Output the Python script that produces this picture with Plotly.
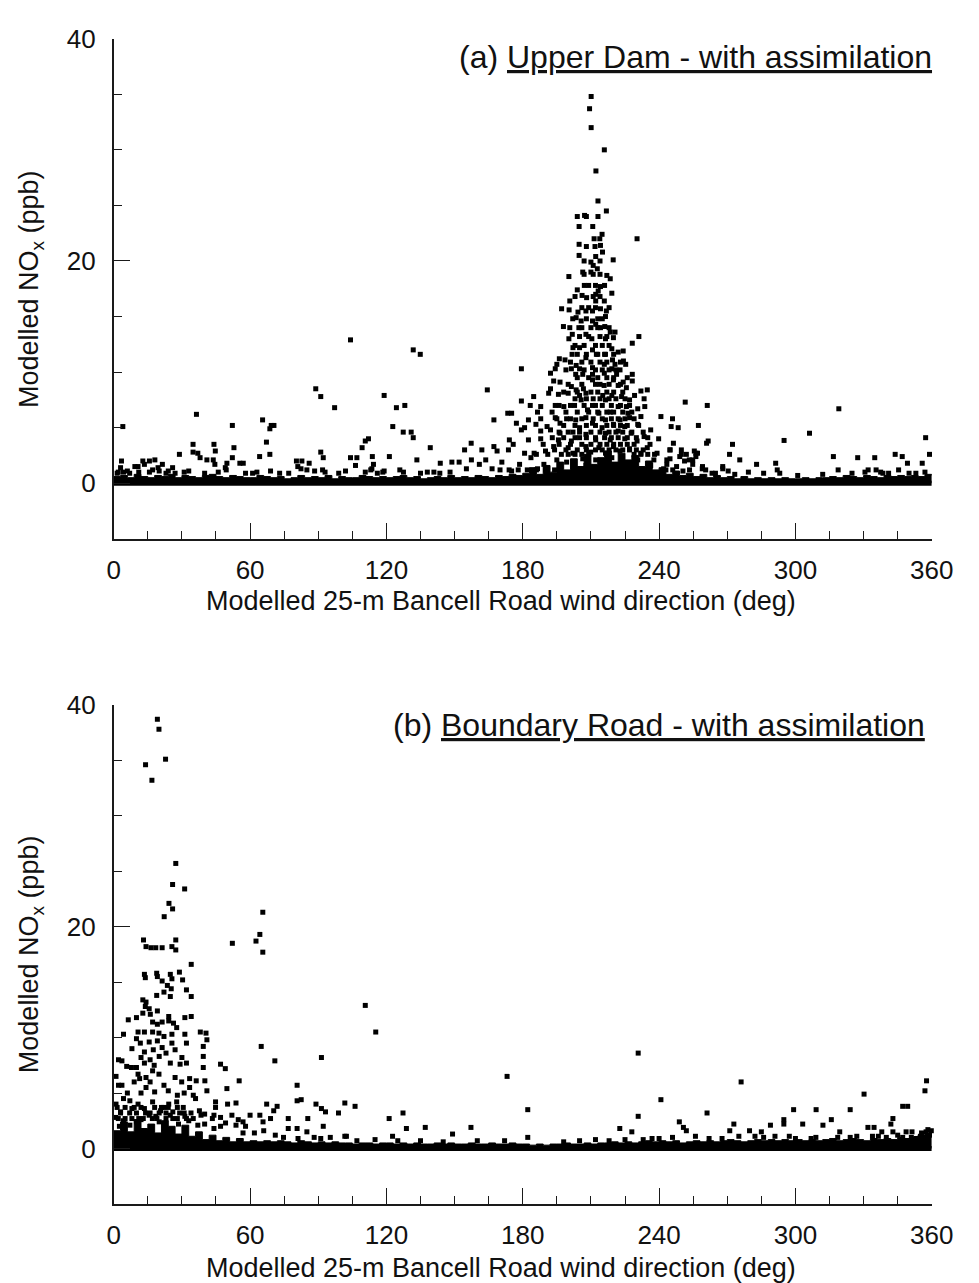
import plotly.graph_objects as go

# ---------------- data (wind direction deg, modelled NOx ppb) ----------------
# Panel (a) Upper Dam
a_low = [(4.0,5.1),(3.4,2.0),(36.4,6.2),(34.9,3.5),(34.9,2.8),(37.0,2.7),(38.0,2.3),(44.1,3.5),(44.7,2.9),(41.0,2.1),
(43.8,2.1),(44.5,1.7),(28.9,2.6),(25.9,1.4),(52.2,5.2),(52.9,3.2),(52.2,2.3),(49.8,1.8),(49.1,1.4),(49.5,1.2),
(55.5,1.8),(57.0,1.8),(65.5,5.7),(69.3,5.2),(70.5,5.2),(68.7,4.9),(67.2,3.7),(64.2,2.4),(68.7,2.6),(61.1,0.9),
(69.0,1.1),(77.0,0.9),(80.4,2.0),(82.8,2.0),(81.0,1.5),(82.4,1.3),(88.4,1.1),(88.9,8.5),(91.1,7.8),(97.2,6.8),
(91.1,2.8),(92.2,2.3),(91.9,1.2),(93.0,1.0),(104.2,12.9),(104.2,2.3),(107.0,2.3),(106.4,1.6),(109.3,3.2),(110.7,3.8),
(112.1,4.0),(113.8,2.4),(114.3,1.7),(113.6,1.3),(113.1,1.2),(110.7,1.0),(119.0,7.9),(121.3,2.4),(122.8,5.1),(124.4,6.8),
(128.1,7.0),(131.8,12.0),(134.9,11.6),(127.4,4.6),(130.9,4.6),(131.8,4.1),(133.4,2.1),(119.0,1.1),(118.4,1.0),(125.9,1.2),
(127.5,1.0),(139.3,3.2),(143.7,1.8),(140.9,1.0),(143.5,0.9),(15.7,2.0),(18.1,2.1),(12.8,2.0),(9.3,1.5),(10.7,1.5),
(21.4,1.7),(17.1,1.2),(15.7,1.0),(4.3,1.0),(1.5,0.9),(7.0,0.9),(11.0,1.0),(20.0,1.1),(23.0,0.9),(27.0,0.9),
(31.0,1.0),(33.0,1.1),(40.0,0.9),(46.0,1.0),(58.0,0.9),(63.0,1.0),(73.0,0.9),(85.0,1.2),(86.0,1.8),(99.0,0.9),
(102.0,1.1),(116.0,0.9),(135.0,0.9),(138.0,1.0),(3.0,1.4),(6.0,1.1),(2.0,1.0),(13.5,1.7),(19.5,1.4),(24.0,1.1)]

a_peak = [(210.1,34.8),(209.4,33.7),(210.1,32.0),(215.9,30.0),(212.2,28.1),(213.1,25.4),(216.8,24.5),(204.0,24.0),(207.2,24.1),(208.0,24.0),
(213.1,24.0),(204.8,23.1),(210.8,23.1),(230.3,22.0),(214.9,22.4),(211.4,22.0),(213.9,22.0),(204.8,21.5),(208.0,21.3),(211.8,21.3),
(214.2,21.4),(215.1,20.8),(204.8,20.5),(212.1,20.4),(219.8,20.1),(210.0,19.9),(211.0,19.6),(212.8,19.3),(206.4,19.0),(210.0,19.0),
(200.3,18.6),(217.0,18.7),(218.5,18.4),(207.1,17.8),(204.0,17.4),(214.2,17.7),(213.2,17.3),(219.2,17.1),(206.1,16.9),(208.1,16.7),
(212.1,17.0),(200.7,16.4),(212.1,16.4),(215.9,16.4),(197.1,15.7),(200.4,15.6),(204.3,15.4),(207.8,15.5),(210.7,15.5),(214.2,15.7),
(216.8,15.5),(216.4,15.0),(203.5,14.9),(205.7,14.6),(210.7,14.6),(197.9,14.1),(200.7,14.0),(204.7,14.0),(212.1,14.3),(214.2,14.0),
(216.1,14.1),(220.6,13.6),(218.5,13.6),(201.8,13.4),(207.8,13.4),(210.4,13.0),(200.3,13.0),(216.4,13.0),(219.9,13.1),(231.1,13.2),
(228.2,12.6),(202.1,12.2),(205.0,12.2),(210.7,12.0),(219.2,12.1),(224.2,11.9),(201.7,11.6),(212.4,11.6),(216.4,11.6),(222.0,11.8),
(196.1,11.2),(198.6,11.1),(207.8,11.3),(219.5,11.1),(224.3,11.0),(195.0,10.7),(203.5,10.6),(215.9,10.7),(220.6,10.7),(225.3,10.7),
(179.4,10.3),(194.3,10.3),(201.4,10.3),(205.0,10.3),(210.7,10.4),(219.2,10.3),(222.8,10.2),(192.2,9.9),(203.3,9.8),(206.4,9.8),
(210.7,9.8),(215.9,9.9),(221.3,9.8),(228.2,9.8),(193.6,9.2),(196.4,9.1),(210.7,9.3),(219.9,9.3),(224.2,9.1),(228.2,9.2),
(215.8,8.8),(222.0,8.8),(192.2,8.5),(201.4,8.7),(203.5,8.4),(206.7,8.5),(225.6,8.6),(164.4,8.4),(232.0,8.3),(234.8,8.4),
(191.4,8.1),(195.7,8.0),(200.0,8.1),(205.0,7.9),(207.8,8.1),(215.2,7.9),(219.2,7.9),(223.5,7.8),(229.2,7.9),(184.8,7.8),
(179.4,7.4),(205.7,7.5),(216.4,7.5),(227.0,7.5),(233.4,7.6),(183.3,7.0),(187.9,6.9),(194.3,7.0),(198.1,6.9),(202.8,7.0),
(210.7,7.0),(222.0,6.9),(225.6,6.9),(230.6,6.7),(233.7,6.9),(186.5,6.4),(192.9,6.4),(173.4,6.3),(175.1,6.3),(208.5,6.6),
(213.5,6.3),(218.5,6.4),(226.3,6.3),(232.0,6.0),(240.8,6.0),(167.3,5.7),(182.5,5.7),(187.9,5.8),(194.3,5.9),(199.3,5.8),
(203.3,5.7),(207.8,5.9),(216.4,5.7),(222.8,5.7),(227.0,5.9),(177.2,5.4),(180.8,5.0),(185.8,5.3),(190.7,5.1),(196.4,5.4),
(205.0,5.0),(210.7,5.4),(214.9,5.0),(219.9,5.3),(224.9,5.1),(230.6,5.3),(236.3,4.8),(179.4,4.8),(187.9,4.7),(192.2,4.8),
(196.4,4.5),(202.1,4.6),(207.8,4.4),(216.4,4.5),(222.0,4.7),(227.7,4.5),(233.4,4.2),(174.1,3.9),(182.5,3.9),(187.9,4.0),
(195.7,3.9),(201.4,3.8),(205.0,4.1),(212.1,3.9),(218.5,3.9),(224.9,4.0),(230.3,3.8),(239.8,4.0),(157.3,3.6),(167.3,3.3),
(175.8,3.5),(193.6,3.3),(200.0,3.2),(207.8,3.3),(213.5,3.2),(219.9,3.3),(227.0,3.1),(234.8,3.2),(244.8,3.0),(154.4,3.0),
(162.0,3.0),(168.7,2.9),(173.7,3.0),(180.8,2.7),(185.0,2.7),(190.0,2.9),(202.1,2.7),(209.9,2.8),(216.4,2.7),(222.8,2.9),
(232.0,2.7),(239.1,2.7),(157.4,2.1),(163.7,2.1),(183.6,2.3),(195.0,2.1),(206.4,2.2),(212.1,2.1),(219.2,2.3),(230.6,2.1),
(237.7,2.1),(244.8,2.2),(148.8,1.9),(152.0,1.9),(160.9,1.7),(170.8,1.9),(178.6,1.7),(189.3,1.7),(199.3,1.9),(207.8,1.6),
(224.9,1.7),(236.3,1.6),(243.4,1.7),(148.0,1.0),(155.2,1.3),(166.5,1.3),(175.1,1.1),(186.5,1.3),(196.4,1.1),(205.0,1.3),
(213.5,1.1),(222.0,1.1),(232.0,1.3),(242.0,1.3)]

# dense core of the peak: level (ppb) -> directions
a_core_rows = {
    1.2: [170,174,178,182,186,190,194,243,246],
    2.6: [186,191,197,200,203,206,209,229,232,235,238],
    3.0: [194,199,204,208,212,215,218,221,224,227,230,233],
    3.5: [189,196,201,206,210,214,217,220,223,226,229,236],
    4.1: [193,198,203,208,212,216,219,222,226,230,235],
    4.6: [196,200,205,210,214,218,221,224,228,233],
    5.2: [198,203,208,212,217,220,223,226,231],
    5.8: [195,201,206,211,215,219,222,225,229],
    6.4: [199,204,209,213,217,220,224,228],
    7.0: [196,201,207,212,215,219,223,227],
    7.6: [203,208,211,214,218,221,225],
    8.2: [198,204,210,213,217,220,224],
    8.9: [200,206,212,214,218,223],
    9.5: [204,209,213,217,220,226],
    10.2: [199,207,212,215,218,221],
    10.9: [201,206,210,214,217,223],
    11.6: [204,208,213,216,220],
    12.4: [203,207,212,215,218],
    13.2: [205,209,214,217],
    14.0: [206,210,213,218],
    14.8: [202,208,213,215],
    15.8: [206,209,212,218],
    16.8: [203,211,214],
    17.8: [209,212,216],
    18.8: [207,211,214],
    20.0: [207,214],
}

a_right = [(251.5,7.3),(261.2,7.0),(245.9,5.8),(245.3,5.1),(248.4,5.0),(257.3,5.2),(261.6,3.8),(260.9,3.6),(272.3,3.5),(295.0,3.85),
(306.2,4.5),(319.1,6.7),(357.3,4.1),(359.0,2.6),(355.8,1.8),(271.0,2.6),(275.5,2.1),(268.0,1.5),(268.0,1.3),(279.3,1.0),
(282.9,1.7),(286.0,0.9),(291.3,1.8),(292.0,1.2),(293.1,0.9),(316.7,2.4),(318.8,1.2),(324.9,0.9),(327.4,2.3),(334.9,2.3),
(330.6,1.0),(332.0,1.2),(335.5,1.2),(337.5,1.0),(343.9,2.6),(347.0,2.4),(349.3,1.8),(345.4,1.2),(350.0,0.9),(249.8,2.6),
(256.2,2.7),(253.3,2.1),(254.8,1.7),(250.5,1.1),(259.0,1.3),(270.4,1.1),(244.8,3.0),(249.1,2.4),(252.0,2.6),(254.8,2.1),
(256.2,2.4),(259.1,1.5),(263.3,0.9),(247.7,1.5),(253.4,1.2),(243.4,2.1),(255.5,2.9),(256.9,2.7),(251.2,2.0),(260.5,1.2),
(264.8,0.9),(273.3,0.8),(246.3,3.6),(249.8,3.0),(341.0,0.9),(353.0,0.9),(357.0,1.0),(312.0,0.8),(301.0,0.7),(338.5,0.9)]

# Panel (b) Boundary Road
b_left = [(19.2,38.7),(19.9,37.8),(14.0,34.6),(22.8,35.1),(16.8,33.2),(27.3,25.7),(25.9,23.8),(31.2,23.4),(24.3,22.1),(25.9,21.6),
(22.2,20.9),(65.6,21.3),(64.3,19.3),(62.6,18.7),(65.6,17.7),(52.2,18.5),(13.1,18.8),(14.2,18.2),(16.4,18.1),(18.5,18.1),
(21.3,18.1),(25.6,18.2),(27.3,18.8),(27.3,17.9),(34.1,16.6),(13.5,15.7),(13.9,15.4),(18.9,15.8),(19.2,15.5),(21.3,15.1),
(24.9,15.7),(25.6,15.3),(28.9,15.9),(30.3,15.2),(23.6,14.7),(25.3,14.4),(18.9,13.8),(22.1,14.1),(24.9,13.7),(32.0,14.3),
(34.1,13.7),(12.8,13.4),(14.2,13.2),(13.9,12.8),(15.6,12.6),(12.8,12.2),(19.2,12.4),(16.1,12.1),(6.4,11.6),(10.0,11.8),
(31.3,11.8),(34.1,11.9),(24.2,11.9),(17.1,11.4),(19.2,11.2),(21.3,11.4),(24.2,11.5),(26.3,11.3),(27.7,10.9),(10.7,10.5),
(13.5,10.5),(17.1,10.5),(19.9,10.4),(4.3,10.3),(22.1,10.1),(25.6,10.3),(31.3,10.3),(38.1,10.5),(40.6,10.4),(41.0,9.8),
(10.0,9.9),(11.7,9.5),(15.6,9.6),(19.2,9.7),(25.6,9.5),(32.0,9.5),(13.5,8.7),(17.4,8.9),(21.3,9.1),(39.4,9.2),
(64.9,9.2),(2.1,8.0),(3.6,7.9),(5.7,7.4),(7.8,7.3),(10.0,7.3),(13.5,7.7),(17.1,7.0),(17.8,7.5),(24.9,7.7),
(29.2,7.6),(32.0,7.7),(39.4,8.3),(39.4,7.3),(47.0,7.6),(49.1,7.2),(70.9,7.9),(91.4,8.2),(10.7,6.7),(11.4,6.3),
(14.2,6.4),(19.9,6.7),(22.1,5.7),(27.0,6.4),(29.9,6.0),(33.4,6.3),(36.3,6.1),(40.1,6.1),(55.2,6.1),(2.1,5.7),
(3.6,5.7),(14.2,5.5),(33.4,5.5),(41.0,5.2),(49.8,5.4),(80.7,5.7),(80.7,4.3),(82.5,4.4),(101.7,4.1),(4.3,4.5),
(7.1,4.3),(10.7,4.0),(13.5,3.6),(17.1,4.2),(20.6,3.4),(24.2,4.0),(27.7,4.2),(30.6,3.7),(37.7,3.4),(38.4,3.0),
(44.8,4.2),(44.8,3.7),(50.1,4.0),(53.8,4.1),(67.3,4.0),(71.9,3.8),(70.4,3.4),(89.0,4.0),(91.4,3.6),(93.2,3.3),
(98.9,3.2),(64.3,3.0),(65.7,2.4),(69.0,2.7),(76.8,2.7),(85.4,2.7),(92.2,2.0),(76.8,1.8),(80.7,1.8),(54.8,2.6),
(56.9,2.4),(49.2,2.3),(53.8,2.1),(43.4,2.7),(44.1,3.0),(15.6,3.0),(18.5,2.9),(24.9,3.0),(31.3,2.9),(7.1,2.1),
(10.0,2.4),(4.3,2.5),(28.5,2.2),(37.0,2.1),(44.1,1.8),(56.9,1.4),(61.9,1.4),(71.1,1.2),(74.7,1.0),(81.1,0.9),
(88.2,1.0),(91.1,0.9),(95.3,1.0),(101.7,1.1),
(8.0,9.0),(12.0,8.2),(16.0,8.0),(20.0,8.3),(23.0,8.6),(27.0,8.9),(30.0,8.2),(9.0,6.0),(16.0,6.0),(24.0,5.2),
(28.0,4.8),(35.0,4.8),(6.0,5.0),(12.0,5.0),(18.0,5.1),(31.0,5.0),(36.0,4.5),(8.0,3.6),(22.0,3.7),(26.0,3.3),
(34.0,3.2),(40.0,3.1),(47.0,2.8),(52.0,3.0),(60.0,3.0),(3.0,3.3),(1.0,4.0),(1.0,6.5),(0.8,2.8),(2.5,2.0),
(12.0,2.6),(20.0,2.4),(33.0,2.5),(40.0,2.2),(47.0,2.0),(58.0,2.0),(66.0,1.6),(85.0,1.5)]

b_core_rows = {
    2.7: [2,5,8,11,13,17,19,23,26,28,32,35],
    3.2: [3,7,10,14,16,20,23,29,31],
    3.7: [1.5,5,9,12,18,21,24,28],
}

b_right = [(110.7,12.9),(115.3,10.5),(173.1,6.5),(230.8,8.6),(276.1,6.0),(330.2,4.9),(357.7,6.1),(357.0,5.2),(240.8,4.4),(261.1,3.2),
(299.2,3.5),(309.1,3.5),(324.1,3.5),(347.2,3.8),(349.4,3.8),(182.2,3.5),(230.8,2.9),(127.3,3.2),(128.8,1.8),(121.2,2.7),
(106.2,3.8),(137.1,1.9),(157.2,1.9),(149.1,1.3),(122.7,1.1),(182.2,1.0),(222.7,1.8),(228.0,1.5),(236.9,0.9),(240.0,0.9),
(245.9,1.0),(248.9,2.4),(250.7,1.9),(252.0,1.6),(267.7,0.9),(271.1,1.6),(272.9,2.2),(275.1,1.1),(279.8,1.6),(282.2,1.1),
(285.0,1.5),(289.0,2.1),(294.9,2.6),(294.9,2.2),(297.3,1.1),(303.2,2.2),(306.9,0.9),(312.1,2.1),(315.8,2.6),(319.5,1.5),
(318.6,1.0),(324.1,1.0),(331.9,1.9),(334.6,1.9),(333.9,1.1),(336.5,1.1),(338.0,1.5),(342.0,2.2),(342.9,2.7),(342.9,1.5),
(347.2,1.0),(348.7,1.5),(351.3,1.5),(355.5,1.4),(358.3,1.7),(102.4,1.1),(357.0,1.0),(359.0,1.2),(357.5,1.5),(359.8,1.6),
(355.0,1.1),(353.0,0.9),(351.0,1.0),(107.0,0.7),(115.0,0.8),(125.0,0.7),(135.0,0.7),(145.0,0.6),(160.0,0.7),(172.0,0.7),
(198.0,0.6),(205.0,0.7),(212.0,0.8),(218.0,0.7),(225.0,0.8),(233.0,0.8),(256.0,1.1),(262.0,0.9),(286.0,1.0),(291.0,1.1),
(300.0,0.9),(309.0,1.0),(327.0,1.1),(340.0,1.0),(345.0,1.2)]

# top edge of the dense near-zero band along the axis
base_dir = [0,3,6,9,12,15,18,21,24,27,30,33,36,39,42,45,48,51,54,57,
            60,63,66,69,72,75,78,81,84,87,90,93,96,99,102,105,108,111,114,117,
            120,123,126,129,132,135,138,141,144,147,150,153,156,159,162,165,168,171,174,177,
            180,183,186,189,192,195,198,201,204,207,210,213,216,219,222,225,228,231,234,237,
            240,243,246,249,252,255,258,261,264,267,270,273,276,279,282,285,288,291,294,297,
            300,303,306,309,312,315,318,321,324,327,330,333,336,339,342,345,348,351,354,357,360]
a_base_top = [0.6,0.7,0.5,0.8,0.6,0.5,0.7,0.6,0.8,0.5,0.7,0.6,0.5,0.7,0.8,0.6,0.5,0.7,0.6,0.5,
              0.5,0.7,0.6,0.5,0.6,0.4,0.5,0.7,0.5,0.6,0.5,0.7,0.4,0.6,0.5,0.5,0.7,0.6,0.5,0.6,
              0.5,0.6,0.7,0.5,0.6,0.4,0.5,0.6,0.5,0.7,0.5,0.6,0.5,0.7,0.6,0.5,0.7,0.6,0.8,0.7,
              0.9,1.4,0.8,1.6,1.0,1.9,1.2,2.2,1.5,2.6,1.7,2.3,2.9,1.9,2.7,2.1,2.5,1.5,2.0,1.2,
              1.4,0.8,1.1,0.7,0.9,0.6,0.8,0.5,0.7,0.5,0.6,0.4,0.6,0.4,0.5,0.4,0.5,0.4,0.5,0.4,
              0.4,0.5,0.4,0.5,0.5,0.6,0.5,0.7,0.6,0.5,0.7,0.6,0.5,0.7,0.6,0.7,0.6,0.7,0.6,0.8,0.7]
b_base_top = [1.6,2.4,1.5,2.6,1.8,2.2,1.4,2.5,2.0,1.3,2.1,1.1,1.5,0.8,1.2,0.7,1.0,0.6,0.9,0.6,
              0.7,0.6,0.7,0.6,0.7,0.6,0.5,0.7,0.6,0.5,0.6,0.5,0.6,0.5,0.5,0.4,0.5,0.5,0.4,0.5,
              0.5,0.4,0.5,0.4,0.5,0.4,0.4,0.5,0.4,0.5,0.4,0.4,0.5,0.4,0.4,0.5,0.4,0.4,0.5,0.4,
              0.4,0.3,0.4,0.3,0.4,0.4,0.5,0.4,0.4,0.5,0.4,0.5,0.5,0.6,0.5,0.6,0.5,0.6,0.7,0.6,
              0.7,0.6,0.7,0.5,0.6,0.7,0.6,0.7,0.6,0.7,0.8,0.7,0.6,0.7,0.8,0.7,0.8,0.7,0.8,0.7,
              0.8,0.7,0.8,0.7,0.8,0.9,0.7,0.8,0.9,0.8,0.7,0.9,0.8,0.9,0.8,1.0,0.9,1.0,1.2,1.4,1.6]
# the many values sitting at zero
zero_dir = [0, 360]
zero_nox = [0, 0]

x_ticks = [0, 60, 120, 180, 240, 300, 360]
y_ticks = [0, 20, 40]

title_a = "(a) <u>Upper Dam - with assimilation</u>"
title_b = "(b) <u>Boundary Road - with assimilation</u>"
x_title = "Modelled 25-m Bancell Road wind direction (deg)"
y_title = "Modelled NO<sub>x</sub> (ppb)"

# ---------------- figure ----------------
W, H = 979, 1283
FONT = "Liberation Sans, Arial, sans-serif"
INK = "#111111"

def split(pairs):
    return [p[0] for p in pairs], [p[1] for p in pairs]

def rows_to_xy(rows):
    xs, ys = [], []
    for lvl, dirs in rows.items():
        xs += list(dirs)
        ys += [lvl] * len(dirs)
    return xs, ys

fig = go.Figure()
mk = dict(symbol="square", size=5, color="black", line=dict(width=0))

def add_points(x, y, xa, ya):
    fig.add_trace(go.Scatter(x=x, y=y, mode="markers", marker=mk, xaxis=xa, yaxis=ya,
                             cliponaxis=False, showlegend=False, hoverinfo="skip"))

def add_band(top, xa, ya):
    fig.add_trace(go.Scatter(x=base_dir, y=top, mode="lines",
                             line=dict(color="black", width=1, shape="hv"),
                             fill="tozeroy", fillcolor="black", xaxis=xa, yaxis=ya,
                             cliponaxis=False, showlegend=False, hoverinfo="skip"))
    fig.add_trace(go.Scatter(x=zero_dir, y=zero_nox, mode="lines",
                             line=dict(color="black", width=5), xaxis=xa, yaxis=ya,
                             cliponaxis=False, showlegend=False, hoverinfo="skip"))

# panel a
add_band(a_base_top, "x", "y")
for grp in (a_low, a_peak, a_right):
    add_points(*split(grp), "x", "y")
add_points(*rows_to_xy(a_core_rows), "x", "y")
# panel b
add_band(b_base_top, "x2", "y2")
for grp in (b_left, b_right):
    add_points(*split(grp), "x2", "y2")
add_points(*rows_to_xy(b_core_rows), "x2", "y2")

xdom = [110 / W, 953 / W]
common_x = dict(domain=xdom, range=[0, 360], showline=True, linecolor="#1a1a1a", linewidth=1.6,
                ticks="inside", ticklen=16, tickwidth=1.4, tickcolor="#1a1a1a",
                tickvals=x_ticks, ticktext=[str(v) for v in x_ticks],
                minor=dict(ticks="inside", ticklen=8, tickwidth=1.4, tickcolor="#1a1a1a", dtick=15, tick0=0),
                showgrid=False, zeroline=False, mirror=False,
                tickfont=dict(family=FONT, size=26, color=INK), ticklabelstandoff=7, fixedrange=True)
common_y = dict(range=[-5, 40], showline=True, linecolor="#1a1a1a", linewidth=1.6,
                ticks="inside", ticklen=16, tickwidth=1.4, tickcolor="#1a1a1a",
                tickvals=y_ticks, ticktext=[str(v) for v in y_ticks],
                minor=dict(ticks="inside", ticklen=8, tickwidth=1.4, tickcolor="#1a1a1a", dtick=5, tick0=0),
                showgrid=False, zeroline=False,
                tickfont=dict(family=FONT, size=26, color=INK), ticklabelstandoff=11, fixedrange=True)

fig.update_layout(
    width=W, height=H, margin=dict(l=0, r=0, t=0, b=0),
    paper_bgcolor="white", plot_bgcolor="white", showlegend=False,
    xaxis=dict(common_x, anchor="y"),
    yaxis=dict(common_y, domain=[1 - 530 / H, 1 - 24 / H], anchor="x"),
    xaxis2=dict(common_x, anchor="y2"),
    yaxis2=dict(common_y, domain=[1 - 1203 / H, 1 - 698 / H], anchor="x2"),
)

ann = []
def add_ann(text, xpx, ypx, size, xanchor="center", angle=0):
    ann.append(dict(text=text, x=xpx / W, y=1 - ypx / H, xref="paper", yref="paper",
                    xanchor=xanchor, yanchor="middle", showarrow=False, textangle=angle,
                    font=dict(family=FONT, size=size, color=INK)))

add_ann(title_a, 955, 42, 32, xanchor="right")
add_ann(title_b, 948, 718, 32, xanchor="right")
add_ann(x_title, 509, 593, 27)
add_ann(x_title, 509, 1268, 27)
add_ann(y_title, 25, 277, 27, angle=-90)
add_ann(y_title, 25, 950, 27, angle=-90)
fig.update_layout(annotations=ann)

fig.write_html("out.html")
